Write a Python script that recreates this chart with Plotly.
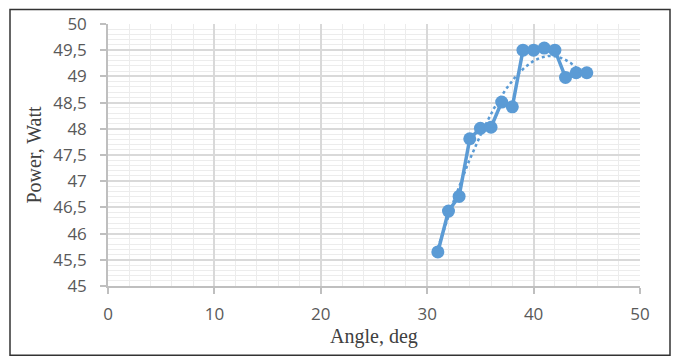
import numpy as np
import plotly.graph_objects as go

angle = [31, 32, 33, 34, 35, 36, 37, 38, 39, 40, 41, 42, 43, 44, 45]
power = [45.65, 46.43, 46.71, 47.81, 48.01, 48.03, 48.51, 48.42, 49.50, 49.50, 49.54, 49.50, 48.98, 49.07, 49.07]

y_ticks = [45, 45.5, 46, 46.5, 47, 47.5, 48, 48.5, 49, 49.5, 50]
y_labels = ["45", "45,5", "46", "46,5", "47", "47,5", "48", "48,5", "49", "49,5", "50"]
x_ticks = [0, 10, 20, 30, 40, 50]
x_labels = ["0", "10", "20", "30", "40", "50"]

# polynomial trendline (as in the spreadsheet chart)
coef = np.polyfit(angle, power, 3)
tx = np.linspace(min(angle), max(angle), 200)
ty = np.polyval(coef, tx)

blue = "#5B9BD5"
fig = go.Figure()
fig.add_trace(go.Scatter(x=angle, y=power, mode="lines+markers",
                         line=dict(color=blue, width=3.5),
                         marker=dict(color=blue, size=13),
                         showlegend=False, cliponaxis=False))
fig.add_trace(go.Scatter(x=tx, y=ty, mode="lines",
                         line=dict(color=blue, width=2.5, dash="dot"),
                         showlegend=False))

W, H = 675, 361
L, R, T, B = 108, 35, 17, 75
pw, ph = W - L - R, H - T - B

tickfont = dict(family="Open Sans, Calibri, sans-serif", size=17, color="#595959")
titlefont = dict(family="Liberation Serif, Times New Roman, serif", size=20, color="#404040")

fig.update_layout(
    width=W, height=H,
    margin=dict(l=L, r=R, t=T, b=B),
    paper_bgcolor="white", plot_bgcolor="white",
    xaxis=dict(range=[0, 50], tickvals=x_ticks, ticktext=x_labels,
               showgrid=True, gridcolor="#d9d9d9", gridwidth=1.5,
               minor=dict(dtick=2, showgrid=True, gridcolor="#ececec", gridwidth=1),
               showline=True, linecolor="#bfbfbf", linewidth=1.5,
               ticks="outside", ticklen=6, tickcolor="#bfbfbf", tickwidth=1.5,
               ticklabelstandoff=6,
               tickfont=tickfont,
               title=dict(text="Angle, deg", standoff=4, font=titlefont),
               zeroline=False),
    yaxis=dict(range=[45, 50], tickvals=y_ticks, ticktext=y_labels,
               showgrid=True, gridcolor="#d9d9d9", gridwidth=1.5,
               minor=dict(dtick=0.1, showgrid=True, gridcolor="#ececec", gridwidth=1),
               showline=True, linecolor="#bfbfbf", linewidth=1.5,
               ticks="outside", ticklen=6, tickcolor="#bfbfbf", tickwidth=1.5,
               ticklabelstandoff=10,
               tickfont=tickfont,
               title=dict(text="Power, Watt", standoff=6, font=titlefont),
               zeroline=False),
)

# outer frame of the chart
fig.add_shape(type="rect", xref="paper", yref="paper",
              x0=(10 - L) / pw, x1=(670 - L) / pw,
              y0=(H - B - 357) / ph, y1=(H - B - 2) / ph,
              line=dict(color="#333333", width=1.5), fillcolor="rgba(0,0,0,0)", layer="above")

fig.write_html("out.html", config={"displayModeBar": False},
               post_script="document.body.style.margin='0';document.body.style.overflow='hidden';")
